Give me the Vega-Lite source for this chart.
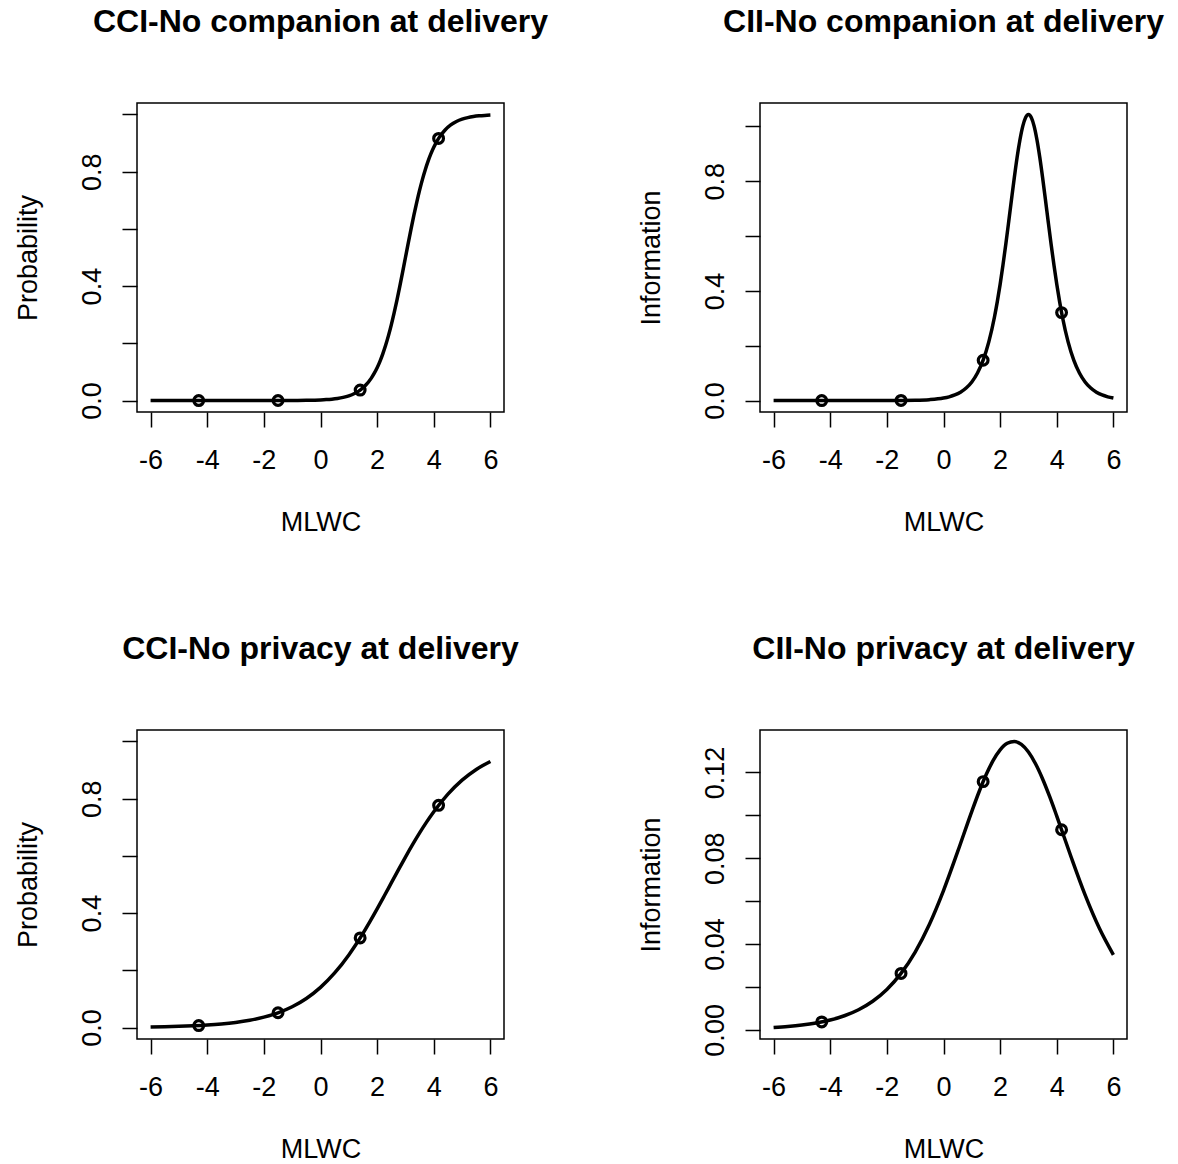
{
  "$schema": "https://vega.github.io/schema/vega-lite/v6.json",
  "background": "white",
  "padding": {"left": 13, "top": 5, "right": 5, "bottom": 5},
  "bounds": "flush",
  "spacing": {"row": 318, "column": 256},
  "columns": 2,
  "config": {
    "font": "Liberation Sans",
    "view": {"stroke": "black", "strokeWidth": 1.5},
    "axis": {"grid": false, "domain": false, "tickColor": "black", "tickSize": 15, "tickWidth": 1.5,
      "labelFont": "Liberation Sans", "labelFontSize": 27, "labelColor": "black",
      "titleFont": "Liberation Sans", "titleFontSize": 27, "titleFontWeight": "normal", "titleColor": "black",
      "labelOverlap": false, "labelFlush": false},
    "axisX": {"labelPadding": 41, "labelBaseline": "alphabetic", "titlePadding": 36},
    "axisY": {"labelAngle": 270, "labelAlign": "center", "labelBaseline": "alphabetic", "labelPadding": 22, "titlePadding": 36},
    "title": {"font": "Liberation Sans", "fontSize": 32, "fontWeight": "bold", "color": "black", "anchor": "middle", "frame": "group", "baseline": "alphabetic", "offset": 64}
  },
  "datasets": {
    "curveA": [
      {"theta": -6, "P": 0, "I": 0}, {"theta": -5, "P": 0, "I": 0}, {"theta": -4, "P": 0.000001, "I": 0.000003},
      {"theta": -3, "P": 0.000005, "I": 0.00002}, {"theta": -2, "P": 0.000037, "I": 0.00015}, {"theta": -1, "P": 0.00028, "I": 0.00118},
      {"theta": -0.5, "P": 0.00078, "I": 0.00325}, {"theta": 0, "P": 0.00217, "I": 0.00904}, {"theta": 0.2, "P": 0.00327, "I": 0.01365},
      {"theta": 0.4, "P": 0.00491, "I": 0.0204}, {"theta": 0.6, "P": 0.00738, "I": 0.0306}, {"theta": 0.8, "P": 0.01106, "I": 0.04566},
      {"theta": 1, "P": 0.01653, "I": 0.0679}, {"theta": 1.2, "P": 0.02468, "I": 0.1005}, {"theta": 1.4, "P": 0.03665, "I": 0.1474},
      {"theta": 1.6, "P": 0.05417, "I": 0.2139}, {"theta": 1.8, "P": 0.07929, "I": 0.3047}, {"theta": 1.9, "P": 0.09558, "I": 0.3608},
      {"theta": 2, "P": 0.1147, "I": 0.4238}, {"theta": 2.1, "P": 0.13721, "I": 0.4941}, {"theta": 2.2, "P": 0.1633, "I": 0.5703},
      {"theta": 2.3, "P": 0.19309, "I": 0.6504}, {"theta": 2.4, "P": 0.2269, "I": 0.7322}, {"theta": 2.5, "P": 0.26473, "I": 0.8125},
      {"theta": 2.6, "P": 0.3064, "I": 0.8871}, {"theta": 2.7, "P": 0.35138, "I": 0.9513}, {"theta": 2.8, "P": 0.3992, "I": 1.0011},
      {"theta": 2.9, "P": 0.4491, "I": 1.0327}, {"theta": 3, "P": 0.5, "I": 1.0435}, {"theta": 3.1, "P": 0.5509, "I": 1.0327},
      {"theta": 3.2, "P": 0.6008, "I": 1.0011}, {"theta": 3.3, "P": 0.64862, "I": 0.9513}, {"theta": 3.4, "P": 0.6936, "I": 0.8871},
      {"theta": 3.5, "P": 0.73527, "I": 0.8125}, {"theta": 3.6, "P": 0.7731, "I": 0.7322}, {"theta": 3.7, "P": 0.80691, "I": 0.6504},
      {"theta": 3.8, "P": 0.8367, "I": 0.5703}, {"theta": 3.9, "P": 0.86279, "I": 0.4941}, {"theta": 4, "P": 0.8853, "I": 0.4238},
      {"theta": 4.1, "P": 0.90442, "I": 0.3608}, {"theta": 4.2, "P": 0.9207, "I": 0.3047}, {"theta": 4.4, "P": 0.9458, "I": 0.2139},
      {"theta": 4.6, "P": 0.9634, "I": 0.1474}, {"theta": 4.8, "P": 0.9753, "I": 0.1005}, {"theta": 5, "P": 0.9835, "I": 0.0679},
      {"theta": 5.2, "P": 0.98894, "I": 0.04566}, {"theta": 5.4, "P": 0.99262, "I": 0.0306}, {"theta": 5.6, "P": 0.99509, "I": 0.0204},
      {"theta": 5.8, "P": 0.99673, "I": 0.01365}, {"theta": 6, "P": 0.99783, "I": 0.00904}
    ],
    "ptsA": [
      {"theta": -4.3, "P": 0, "I": 0}, {"theta": -1.5, "P": 0.0001, "I": 0.00042},
      {"theta": 1.4, "P": 0.0366, "I": 0.1472}, {"theta": 4.17, "P": 0.9161, "I": 0.3208}
    ],
    "curveB": [
      {"theta": -6, "P": 0.002003, "I": 0.001075}, {"theta": -5.5, "P": 0.002889, "I": 0.001549}, {"theta": -5, "P": 0.004161, "I": 0.002228},
      {"theta": -4.5, "P": 0.005995, "I": 0.003204}, {"theta": -4, "P": 0.008621, "I": 0.004596}, {"theta": -3.5, "P": 0.012395, "I": 0.006582},
      {"theta": -3, "P": 0.017787, "I": 0.009394}, {"theta": -2.5, "P": 0.025458, "I": 0.01334}, {"theta": -2, "P": 0.036337, "I": 0.018828},
      {"theta": -1.5, "P": 0.0516, "I": 0.026313}, {"theta": -1, "P": 0.07278, "I": 0.036286}, {"theta": -0.5, "P": 0.10175, "I": 0.049144},
      {"theta": 0, "P": 0.14051, "I": 0.064936}, {"theta": 0.5, "P": 0.19084, "I": 0.083032}, {"theta": 1, "P": 0.25387, "I": 0.101851},
      {"theta": 1.25, "P": 0.29016, "I": 0.110748}, {"theta": 1.5, "P": 0.3293, "I": 0.118757}, {"theta": 1.75, "P": 0.37099, "I": 0.125476},
      {"theta": 2, "P": 0.41467, "I": 0.13051}, {"theta": 2.25, "P": 0.45977, "I": 0.133556}, {"theta": 2.5, "P": 0.5055, "I": 0.134409},
      {"theta": 2.75, "P": 0.55114, "I": 0.133019}, {"theta": 3, "P": 0.59595, "I": 0.129475}, {"theta": 3.25, "P": 0.63922, "I": 0.124003},
      {"theta": 3.5, "P": 0.68032, "I": 0.116942}, {"theta": 3.75, "P": 0.7188, "I": 0.108684}, {"theta": 4, "P": 0.75434, "I": 0.099642},
      {"theta": 4.5, "P": 0.81586, "I": 0.08078}, {"theta": 5, "P": 0.86474, "I": 0.062892}, {"theta": 5.5, "P": 0.9022, "I": 0.047444},
      {"theta": 6, "P": 0.93011, "I": 0.034953}
    ],
    "ptsB": [
      {"theta": -4.3, "P": 0.006935, "I": 0.003703}, {"theta": -1.5, "P": 0.0516, "I": 0.026313},
      {"theta": 1.4, "P": 0.31333, "I": 0.115689}, {"theta": 4.17, "P": 0.7767, "I": 0.09326}
    ]
  },
  "concat": [
    {
      "title": "CCI-No companion at delivery",
      "width": 367, "height": 309,
      "layer": [
        {"data": {"name": "curveA"}, "mark": {"type": "line", "color": "black", "strokeWidth": 3.5, "interpolate": "monotone"},
         "encoding": {
           "x": {"field": "theta", "type": "quantitative", "scale": {"domain": [-6.48, 6.48], "nice": false, "zero": false},
                 "axis": {"values": [-6, -4, -2, 0, 2, 4, 6], "labelExpr": "datum.value + ''", "title": "MLWC"}},
           "y": {"field": "P", "type": "quantitative", "scale": {"domain": [-0.04, 1.04], "nice": false, "zero": false},
                 "axis": {"values": [0, 0.2, 0.4, 0.6, 0.8, 1], "labelExpr": "round(datum.value*10) % 4 == 0 ? format(datum.value, '.1f') : ''", "title": "Probability"}}
         }},
        {"data": {"name": "ptsA"}, "mark": {"type": "point", "shape": "circle", "filled": false, "color": "black", "size": 95, "strokeWidth": 3.2, "opacity": 1},
         "encoding": {"x": {"field": "theta", "type": "quantitative"}, "y": {"field": "P", "type": "quantitative"}}}
      ]
    },
    {
      "title": "CII-No companion at delivery",
      "width": 367, "height": 309,
      "layer": [
        {"data": {"name": "curveA"}, "mark": {"type": "line", "color": "black", "strokeWidth": 3.5, "interpolate": "monotone"},
         "encoding": {
           "x": {"field": "theta", "type": "quantitative", "scale": {"domain": [-6.48, 6.48], "nice": false, "zero": false},
                 "axis": {"values": [-6, -4, -2, 0, 2, 4, 6], "labelExpr": "datum.value + ''", "title": "MLWC"}},
           "y": {"field": "I", "type": "quantitative", "scale": {"domain": [-0.0417, 1.0852], "nice": false, "zero": false},
                 "axis": {"values": [0, 0.2, 0.4, 0.6, 0.8, 1], "labelExpr": "round(datum.value*10) % 4 == 0 ? format(datum.value, '.1f') : ''", "title": "Information"}}
         }},
        {"data": {"name": "ptsA"}, "mark": {"type": "point", "shape": "circle", "filled": false, "color": "black", "size": 95, "strokeWidth": 3.2, "opacity": 1},
         "encoding": {"x": {"field": "theta", "type": "quantitative"}, "y": {"field": "I", "type": "quantitative"}}}
      ]
    },
    {
      "title": "CCI-No privacy at delivery",
      "width": 367, "height": 309,
      "layer": [
        {"data": {"name": "curveB"}, "mark": {"type": "line", "color": "black", "strokeWidth": 3.5, "interpolate": "monotone"},
         "encoding": {
           "x": {"field": "theta", "type": "quantitative", "scale": {"domain": [-6.48, 6.48], "nice": false, "zero": false},
                 "axis": {"values": [-6, -4, -2, 0, 2, 4, 6], "labelExpr": "datum.value + ''", "title": "MLWC"}},
           "y": {"field": "P", "type": "quantitative", "scale": {"domain": [-0.04, 1.04], "nice": false, "zero": false},
                 "axis": {"values": [0, 0.2, 0.4, 0.6, 0.8, 1], "labelExpr": "round(datum.value*10) % 4 == 0 ? format(datum.value, '.1f') : ''", "title": "Probability"}}
         }},
        {"data": {"name": "ptsB"}, "mark": {"type": "point", "shape": "circle", "filled": false, "color": "black", "size": 95, "strokeWidth": 3.2, "opacity": 1},
         "encoding": {"x": {"field": "theta", "type": "quantitative"}, "y": {"field": "P", "type": "quantitative"}}}
      ]
    },
    {
      "title": "CII-No privacy at delivery",
      "width": 367, "height": 309,
      "layer": [
        {"data": {"name": "curveB"}, "mark": {"type": "line", "color": "black", "strokeWidth": 3.5, "interpolate": "monotone"},
         "encoding": {
           "x": {"field": "theta", "type": "quantitative", "scale": {"domain": [-6.48, 6.48], "nice": false, "zero": false},
                 "axis": {"values": [-6, -4, -2, 0, 2, 4, 6], "labelExpr": "datum.value + ''", "title": "MLWC"}},
           "y": {"field": "I", "type": "quantitative", "scale": {"domain": [-0.00426, 0.13976], "nice": false, "zero": false},
                 "axis": {"values": [0, 0.02, 0.04, 0.06, 0.08, 0.1, 0.12], "labelExpr": "round(datum.value*100) % 4 == 0 ? format(datum.value, '.2f') : ''", "title": "Information"}}
         }},
        {"data": {"name": "ptsB"}, "mark": {"type": "point", "shape": "circle", "filled": false, "color": "black", "size": 95, "strokeWidth": 3.2, "opacity": 1},
         "encoding": {"x": {"field": "theta", "type": "quantitative"}, "y": {"field": "I", "type": "quantitative"}}}
      ]
    }
  ]
}
